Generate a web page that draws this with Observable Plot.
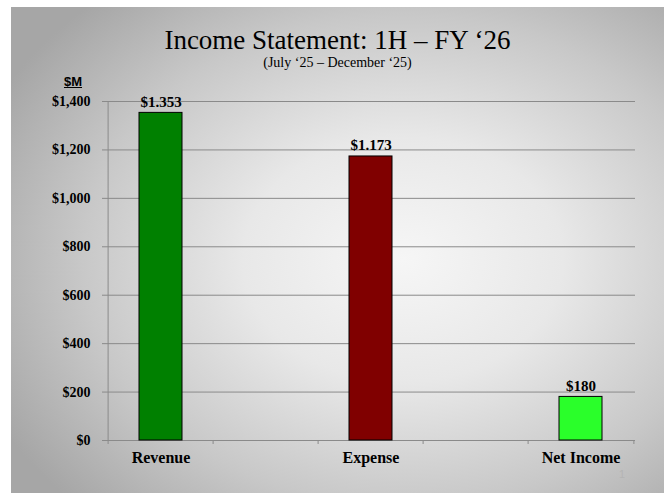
<!DOCTYPE html>
<html><head><meta charset="utf-8">
<script src="https://cdn.jsdelivr.net/npm/d3@7"></script>
<script src="https://cdn.jsdelivr.net/npm/@observablehq/plot@0.6"></script>
<style>
html,body{margin:0;padding:0;background:#fff;}
#page{position:relative;width:664px;height:493px;overflow:hidden;background:#fff;}
#slide{position:absolute;left:11px;top:7px;width:653px;height:486px;
  background:radial-gradient(ellipse 70% 72% at 60% 52%, #f6f6f6 0%, #e8e8e8 35%, #c8c8c8 70%, #a6a6a6 100%);}
.t{position:absolute;white-space:nowrap;color:#000;}
#title{left:11px;width:653px;text-align:center;top:27px;font:27px/27px "Liberation Serif",serif;}
#subtitle{left:11px;width:653px;text-align:center;top:56px;font:14px/14px "Liberation Serif",serif;}
#unit{left:53px;width:40px;text-align:center;top:75px;font:bold 13px/13px "Liberation Sans",sans-serif;text-decoration:underline;}
#pnum{left:612px;width:20px;text-align:center;top:469px;font:11px/11px "Liberation Sans",sans-serif;color:#b4b4b4;}
#chart{position:absolute;left:0;top:90px;}
</style></head>
<body>
<div id="page">
  <div id="slide"></div>
  <div class="t" id="title">Income Statement: 1H – FY ‘26</div>
  <div class="t" id="subtitle">(July ‘25 – December ‘25)</div>
  <div class="t" id="unit">$M</div>
  <div class="t" id="pnum">1</div>
  <div id="chart"></div>
</div>
<script>
const slots = ["Revenue", " gap1", "Expense", " gap2", "Net Income"];
const categories = ["Revenue", "Expense", "Net Income"];
const values = [1353, 1173, 180];
const valueLabels = ["$1.353", "$1.173", "$180"];
const colors = ["#008000", "#800000", "#2aff2a"];
const yTicks = [0, 200, 400, 600, 800, 1000, 1200, 1400];

const data = categories.map((c, i) => ({cat: c, value: values[i], label: valueLabels[i], color: colors[i]}));

const W = 664, H = 403, mL = 106, mR = 29, mT = 11, mB = 53;
const bw = (W - mL - mR) / slots.length;

const plot = Plot.plot({
  width: W, height: H,
  marginLeft: mL, marginRight: mR, marginTop: mT, marginBottom: mB,
  style: {background: "transparent", fontFamily: "Liberation Serif, serif", fontWeight: "bold", color: "#000", overflow: "visible"},
  x: {type: "band", domain: slots, paddingInner: 0, paddingOuter: 0, label: null},
  y: {domain: [0, 1400], label: null},
  color: {type: "identity"},
  marks: [
    Plot.gridY(yTicks, {stroke: "#8a8a8a", strokeOpacity: 1, strokeWidth: 1}),
    Plot.ruleX([slots[0]], {dx: -bw / 2, y1: 0, y2: 1400, stroke: "#8a8a8a", strokeWidth: 1}),
    Plot.ruleX(slots, {dx: -bw / 2, y1: 0, y2: 0, insetBottom: -4, stroke: "#8a8a8a"}),
    Plot.ruleX([slots[slots.length - 1]], {dx: bw / 2, y1: 0, y2: 0, insetBottom: -4, stroke: "#8a8a8a"}),
    Plot.axisY({ticks: yTicks, tickSize: 4, tickPadding: 12, stroke: "#8a8a8a",
      tickFormat: d => "$" + d3.format(",")(d), fontSize: 14, fontWeight: "bold"}),
    Plot.axisX({tickSize: 0, tickPadding: 11, fontSize: 16, fontWeight: "bold",
      tickFormat: d => d.startsWith(" ") ? "" : d}),
    Plot.barY(data, {x: "cat", y: "value", fill: "color", stroke: "#000", strokeWidth: 1,
      insetLeft: 31, insetRight: 31}),
    Plot.text(data, {x: "cat", y: "value", text: "label", dy: -6, lineAnchor: "bottom",
      fontSize: 15, fontWeight: "bold", fill: "#000"})
  ]
});
document.getElementById("chart").appendChild(plot);
</script>
</body></html>
